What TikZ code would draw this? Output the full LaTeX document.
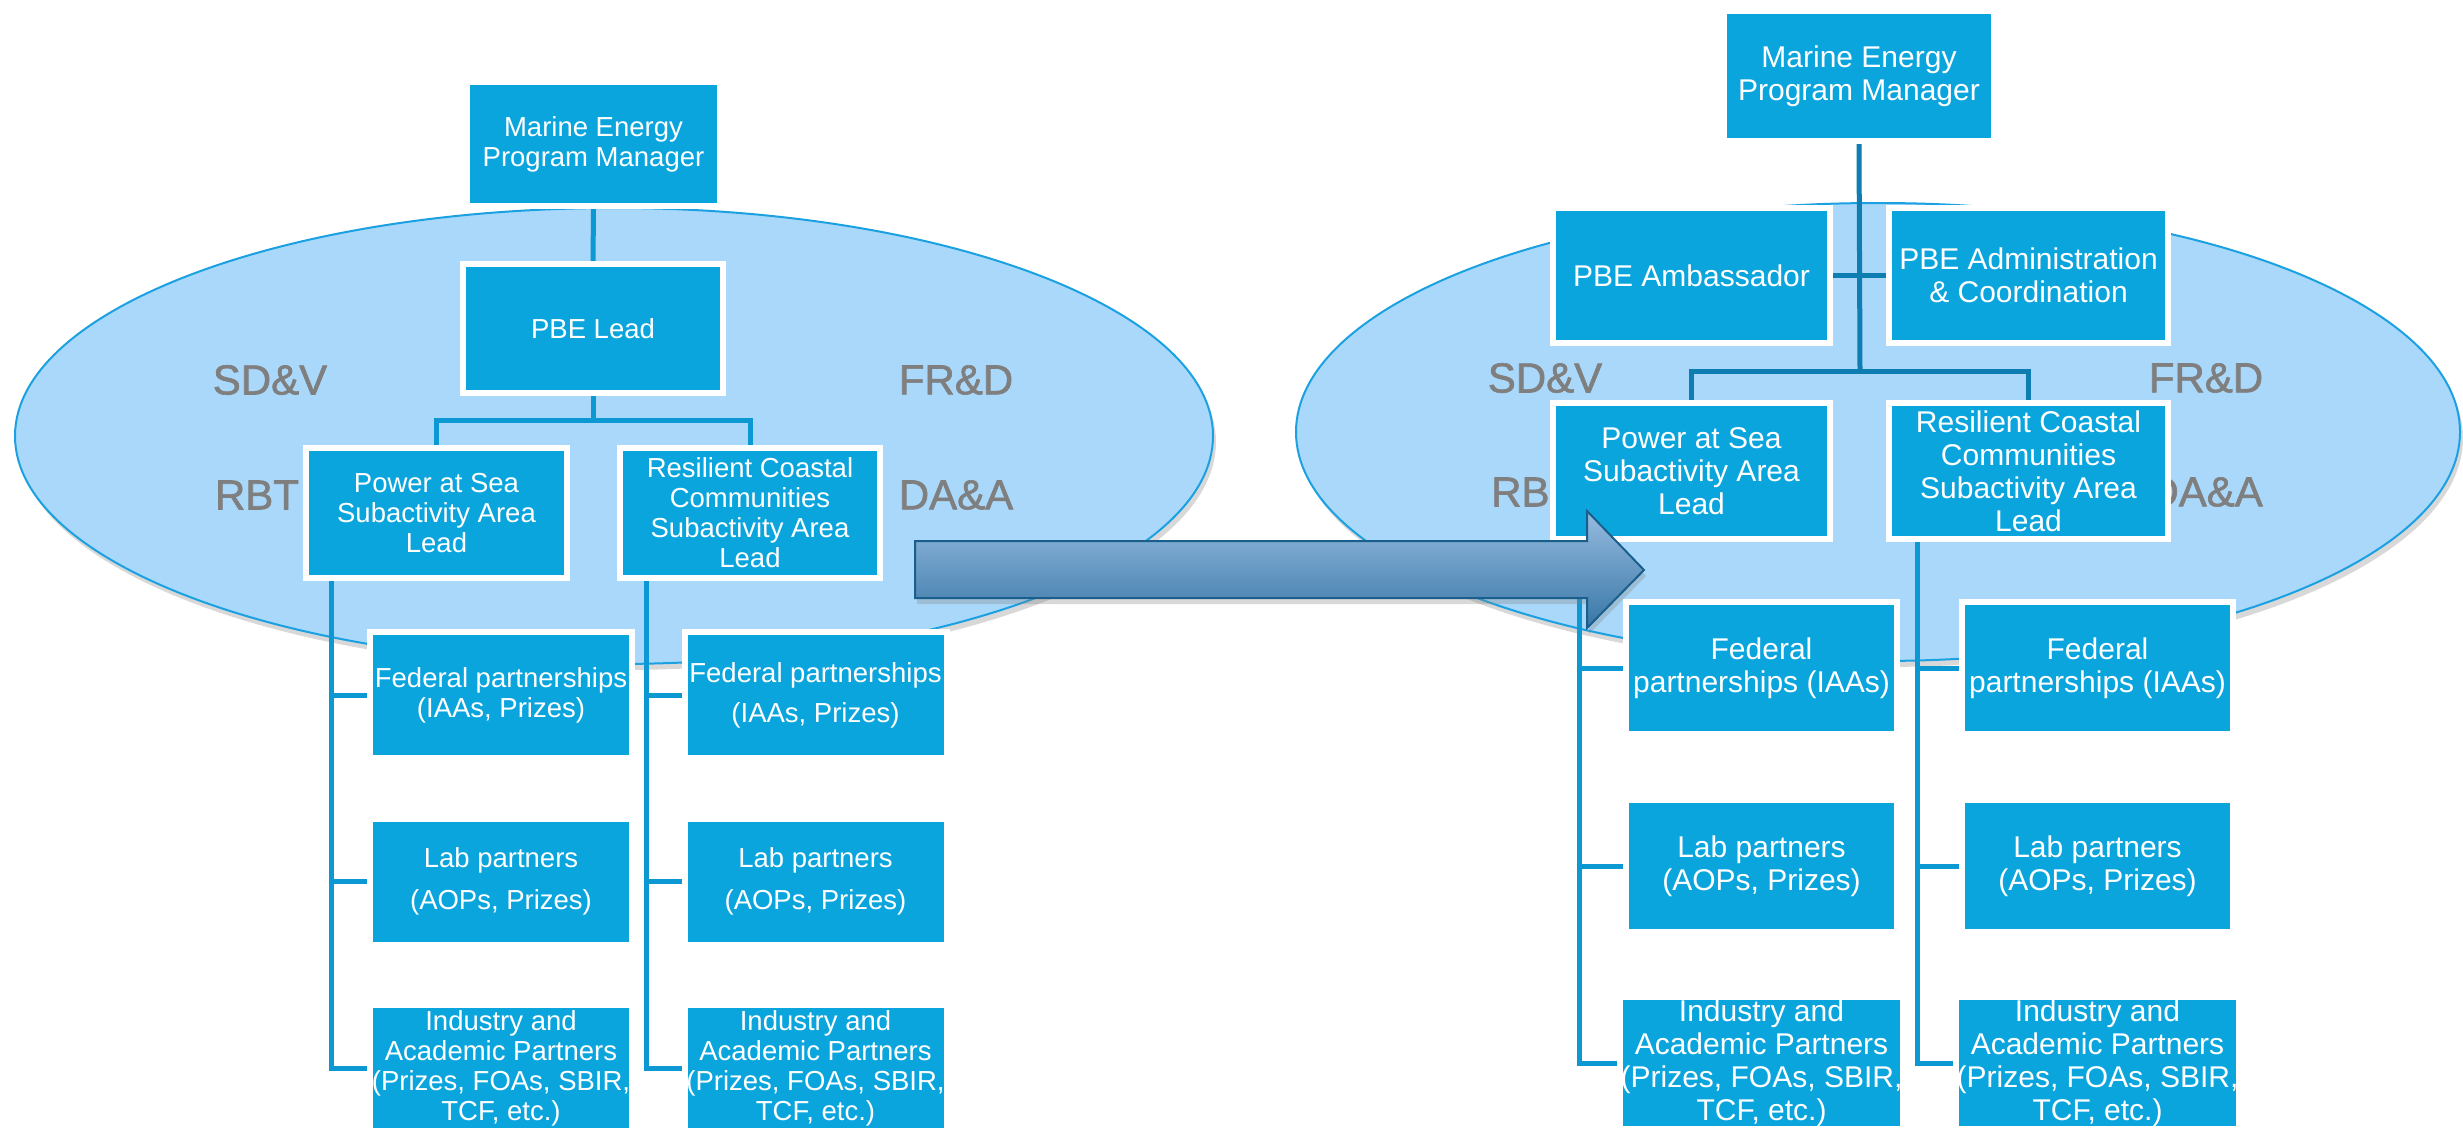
\documentclass[tikz,border=0pt]{standalone}
\usepackage{fontspec}
\setmainfont{Liberation Sans}
\newfontfamily\labfont[FakeBold=1.5]{Liberation Sans}
\usetikzlibrary{shapes.geometric,shadows}
\definecolor{boxblue}{RGB}{11,165,222}
\definecolor{ellfill}{RGB}{170,216,250}
\definecolor{elledge}{RGB}{27,161,226}
\definecolor{connL}{RGB}{12,152,210}
\definecolor{connR}{RGB}{14,125,178}
\definecolor{labgray}{RGB}{127,127,127}
\definecolor{arrtop}{RGB}{150,188,224}
\definecolor{arrbot}{RGB}{56,118,166}
\definecolor{arredge}{RGB}{26,95,140}
\newcommand\fontL{\fontsize{27.5}{30}\selectfont}
\newcommand\fontR{\fontsize{30}{33}\selectfont}
\newcommand\fontLab{\labfont\fontsize{42}{46}\selectfont}
\tikzset{
  bx/.style={fill=boxblue, draw=white, line width=4pt, text=white, align=center, inner sep=0pt},
  bxL/.style={bx, font=\fontL},
  bxR/.style={bx, font=\fontR},
  connl/.style={draw=connL, line width=5pt},
  connr/.style={draw=connR, line width=5pt},
  ell/.style={ellipse, fill=ellfill, draw=elledge, line width=2pt, inner sep=0pt,
    drop shadow={shadow xshift=3pt, shadow yshift=-6pt, opacity=0.3}},
  lab/.style={text=labgray, font=\fontLab, inner sep=0pt},
  bigarrow/.style={top color=arrtop, bottom color=arrbot, draw=arredge, line width=2pt,
    drop shadow={shadow xshift=2pt, shadow yshift=-6pt, opacity=0.3}}
}
\begin{document}
\begin{tikzpicture}[x=1pt,y=-1pt]
\useasboundingbox[fill=white] (0,0) rectangle (2463,1129);
% ellipses
\node[ell, minimum width=1198, minimum height=456] (ellL) at (614,436) {};
\node[ell, minimum width=1164, minimum height=458] (ellR) at (1878,432) {};
% labels left
\node[lab] (sdvL) at (270,380) {SD\&V};
\node[lab] (frdL) at (956,380) {FR\&D};
\node[lab] (rbtL) at (257,495) {RBT};
\node[lab] (daaL) at (956,495) {DA\&A};
% labels right
\node[lab] (sdvR) at (1545,378) {SD\&V};
\node[lab] (frdR) at (2206,378) {FR\&D};
\node[lab, anchor=west] (rbtR) at (1491,492) {RBT};
\node[lab, anchor=east] (daaR) at (2263,492) {DA\&A};
% coordinates
\coordinate (busL) at (593,420);
\coordinate (vL1) at (331,579);
\coordinate (vL2) at (646,579);
\coordinate (busR) at (1860,371);
\coordinate (vR1) at (1579,540);
\coordinate (vR2) at (1917,540);
% left boxes
\node[bxL, minimum width=251, minimum height=122] (pmL) at (593.5,144) {Marine Energy\\Program Manager};
\node[bxL, minimum width=258, minimum height=127] (leadL) at (593,328.5) {PBE Lead};
\node[bxL, minimum width=259, minimum height=128] (powL) at (436.5,513) {Power at Sea\\Subactivity Area\\Lead};
\node[bxL, minimum width=258, minimum height=128] (resL) at (750,513) {Resilient Coastal\\Communities\\Subactivity Area\\Lead};
\node[bxL, minimum width=260, minimum height=124] (fedL1) at (501,695) {Federal partnerships\\(IAAs, Prizes)};
\node[bxL, minimum width=260, minimum height=124] (fedL2) at (815.5,695) {Federal partnerships\\[10pt](IAAs, Prizes)};
\node[bxL, minimum width=260, minimum height=124] (labL1) at (501,881.5) {Lab partners\\[12pt](AOPs, Prizes)};
\node[bxL, minimum width=260, minimum height=124] (labL2) at (815.5,881.5) {Lab partners\\[12pt](AOPs, Prizes)};
\node[bxL, minimum width=260, minimum height=124] (indL1) at (501,1068) {Industry and\\Academic Partners\\(Prizes, FOAs, SBIR,\\TCF, etc.)};
\node[bxL, minimum width=260, minimum height=124] (indL2) at (815.5,1068) {Industry and\\Academic Partners\\(Prizes, FOAs, SBIR,\\TCF, etc.)};
% right boxes
\node[bxR, minimum width=268, minimum height=128] (pmR) at (1859,76) {Marine Energy\\Program Manager};
\node[bxR, minimum width=275, minimum height=133] (amb) at (1691.5,275.5) {PBE Ambassador};
\node[bxR, minimum width=277, minimum height=133] (adm) at (2028.5,275.5) {PBE Administration\\\& Coordination};
\node[bxR, minimum width=275, minimum height=134] (powR) at (1691.5,471) {Power at Sea\\Subactivity Area\\Lead};
\node[bxR, minimum width=277, minimum height=134] (resR) at (2028.5,471) {Resilient Coastal\\Communities\\Subactivity Area\\Lead};
\node[bxR, minimum width=269, minimum height=130] (fedR1) at (1761.5,668) {Federal\\partnerships (IAAs)};
\node[bxR, minimum width=269, minimum height=130] (fedR2) at (2097.5,668) {Federal\\partnerships (IAAs)};
\node[bxR, minimum width=269, minimum height=130] (labR1) at (1761.5,866) {Lab partners\\(AOPs, Prizes)};
\node[bxR, minimum width=269, minimum height=130] (labR2) at (2097.5,866) {Lab partners\\(AOPs, Prizes)};
\node[bxR, minimum width=269, minimum height=130] (indR1) at (1761.5,1063) {Industry and\\Academic Partners\\(Prizes, FOAs, SBIR,\\TCF, etc.)};
\node[bxR, minimum width=269, minimum height=130] (indR2) at (2097.5,1063) {Industry and\\Academic Partners\\(Prizes, FOAs, SBIR,\\TCF, etc.)};
% connectors left
\draw[connl] (pmL.south) -- (leadL.north);
\draw[connl] (leadL.south) -- (busL);
\draw[connl] (powL.north) |- (busL) -| (resL.north);
\draw[connl] (vL1) |- (indL1.west);
\draw[connl] (fedL1.west) -- (fedL1.west -| vL1);
\draw[connl] (labL1.west) -- (labL1.west -| vL1);
\draw[connl] (vL2) |- (indL2.west);
\draw[connl] (fedL2.west) -- (fedL2.west -| vL2);
\draw[connl] (labL2.west) -- (labL2.west -| vL2);
% connectors right
\draw[connr] (pmR.south) -- (busR);
\draw[connr] (amb.east) -- (adm.west);
\draw[connr] (powR.north) |- (busR) -| (resR.north);
\draw[connl] (vR1) |- (indR1.west);
\draw[connl] (fedR1.west) -- (fedR1.west -| vR1);
\draw[connl] (labR1.west) -- (labR1.west -| vR1);
\draw[connl] (vR2) |- (indR2.west);
\draw[connl] (fedR2.west) -- (fedR2.west -| vR2);
\draw[connl] (labR2.west) -- (labR2.west -| vR2);
% redraw box borders over connector ends
\foreach \n in {pmL,leadL,powL,resL,fedL1,fedL2,labL1,labL2,indL1,indL2,pmR,amb,adm,powR,resR,fedR1,fedR2,labR1,labR2,indR1,indR2}{
  \draw[white, line width=4pt] (\n.north west) rectangle (\n.south east);
}
% big arrow
\path[bigarrow] (915,541) -- (1587,541) -- (1587,511) -- (1644,570) -- (1587,628) -- (1587,598) -- (915,598) -- cycle;
\end{tikzpicture}
\end{document}
